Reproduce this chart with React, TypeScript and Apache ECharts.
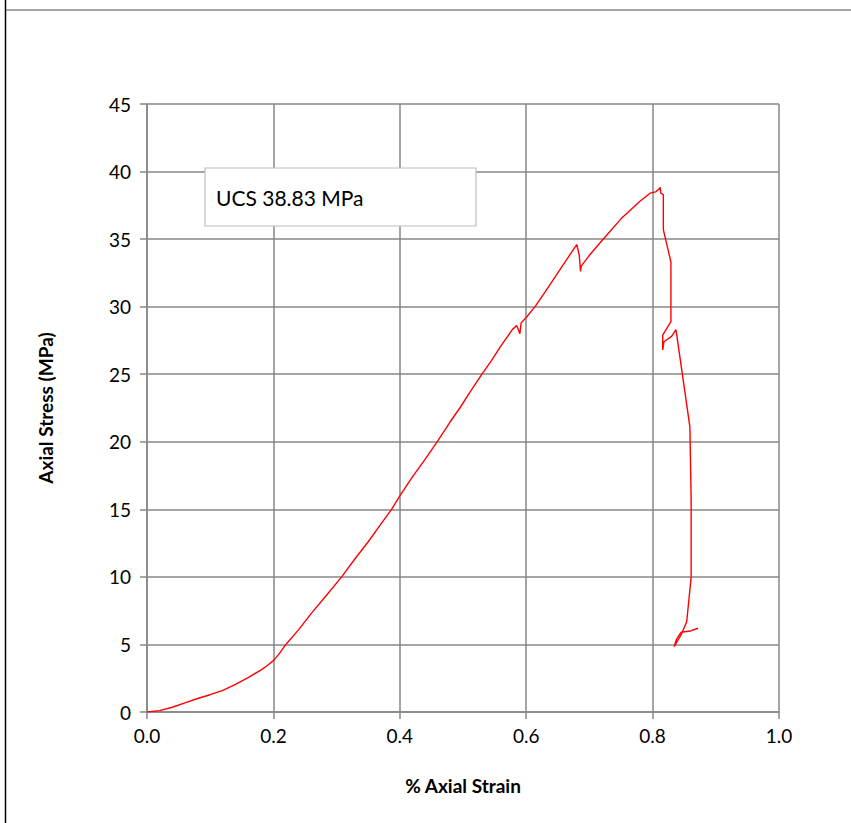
import React, { useEffect, useRef } from "react";
import * as echarts from "echarts";

const strain: number[] = [
  0, 0.02, 0.04, 0.06, 0.08, 0.1, 0.12, 0.14, 0.16, 0.18, 0.19, 0.2, 0.209, 0.218, 0.24, 0.26, 0.285, 0.308,
  0.33, 0.35, 0.37, 0.387, 0.4, 0.42, 0.44, 0.459, 0.48, 0.495, 0.51, 0.53, 0.545, 0.56, 0.578, 0.585, 0.59,
  0.592, 0.6, 0.614, 0.63, 0.65, 0.67, 0.68, 0.684, 0.686, 0.687, 0.7,
  0.72, 0.75, 0.78, 0.796, 0.805, 0.81, 0.812, 0.813, 0.817, 0.817, 0.829, 0.829, 0.816, 0.816, 0.818,
  0.83, 0.837, 0.859, 0.861, 0.861, 0.854, 0.845, 0.834, 0.838, 0.845, 0.86, 0.872,
];
const stress: number[] = [
  0, 0.1, 0.35, 0.68, 1.0, 1.28, 1.6, 2.05, 2.55, 3.1, 3.42, 3.8, 4.3, 4.9, 6.1, 7.3, 8.7, 10.0,
  11.4, 12.6, 13.9, 15.0, 16.0, 17.4, 18.7, 20.0, 21.5, 22.5, 23.6, 25.0, 26.0, 27.1, 28.3, 28.6, 28.0,
  28.8, 29.2, 30.0, 31.1, 32.5, 33.9, 34.6, 33.8, 32.6, 33.0, 33.8,
  34.9, 36.5, 37.8, 38.4, 38.5, 38.7, 38.83, 38.4, 38.3, 35.7, 33.3, 28.9, 27.9, 26.8, 27.4,
  27.8, 28.3, 21.1, 15.7, 10.0, 6.7, 5.7, 4.83, 5.4, 5.9, 6.0, 6.2,
];
const xTicks = [0, 0.2, 0.4, 0.6, 0.8, 1.0];
const annotation = "UCS 38.83 MPa";

export default function App() {
  const ref = useRef<HTMLDivElement>(null);
  useEffect(() => {
    if (!ref.current) return;
    const chart = echarts.init(ref.current, null, { renderer: "svg" });
    const grey = "#878787";
    const font = "Lato, 'Open Sans', sans-serif";
    chart.setOption({
      animation: false,
      backgroundColor: "#ffffff",
      grid: { left: 147, right: 72, top: 104, bottom: 111 },
      xAxis: {
        type: "value",
        min: xTicks[0],
        max: xTicks[xTicks.length - 1],
        interval: 0.2,
        name: "% Axial Strain",
        nameLocation: "middle",
        nameGap: 64,
        nameTextStyle: { fontFamily: font, fontSize: 19, fontWeight: "bold", color: "#000" },
        axisLine: { show: true, lineStyle: { color: grey, width: 1.5 } },
        axisTick: { show: true, length: 7, lineStyle: { color: grey, width: 1.5 } },
        axisLabel: {
          fontFamily: font,
          fontSize: 19,
          color: "#000",
          margin: 14,
          formatter: (v: number) => v.toFixed(1),
        },
        splitLine: { show: true, lineStyle: { color: grey, width: 1.5 } },
      },
      yAxis: {
        type: "value",
        min: 0,
        max: 45,
        interval: 5,
        name: "Axial Stress (MPa)",
        nameLocation: "middle",
        nameGap: 92,
        nameTextStyle: { fontFamily: font, fontSize: 19, fontWeight: "bold", color: "#000" },
        axisLine: { show: true, lineStyle: { color: grey, width: 1.5 } },
        axisTick: { show: true, length: 7, lineStyle: { color: grey, width: 1.5 } },
        axisLabel: { fontFamily: font, fontSize: 19, color: "#000", margin: 16 },
        splitLine: { show: true, lineStyle: { color: grey, width: 1.5 } },
      },
      series: [
        {
          type: "line",
          data: strain.map((s, i) => [s, stress[i]]),
          showSymbol: false,
          symbol: "none",
          lineStyle: { color: "#ff0000", width: 1.4 },
          z: 5,
        },
      ],
      graphic: [
        { type: "line", shape: { x1: 5.5, y1: 0, x2: 5.5, y2: 823 }, style: { stroke: "#000", lineWidth: 1.5 } },
        { type: "line", shape: { x1: 6, y1: 10, x2: 851, y2: 10 }, style: { stroke: grey, lineWidth: 1.5 } },
        {
          type: "rect",
          shape: { x: 205, y: 168, width: 271, height: 58 },
          style: { fill: "#ffffff", stroke: "#bdbdbd", lineWidth: 1.2 },
          z: 10,
        },
        {
          type: "text",
          x: 216,
          y: 197,
          style: { text: annotation, fontFamily: font, fontSize: 21, fill: "#000", verticalAlign: "middle" },
          z: 11,
        },
      ],
    });
    return () => chart.dispose();
  }, []);
  return <div ref={ref} style={{ position: "absolute", left: 0, top: 0, width: 851, height: 823 }} />;
}
